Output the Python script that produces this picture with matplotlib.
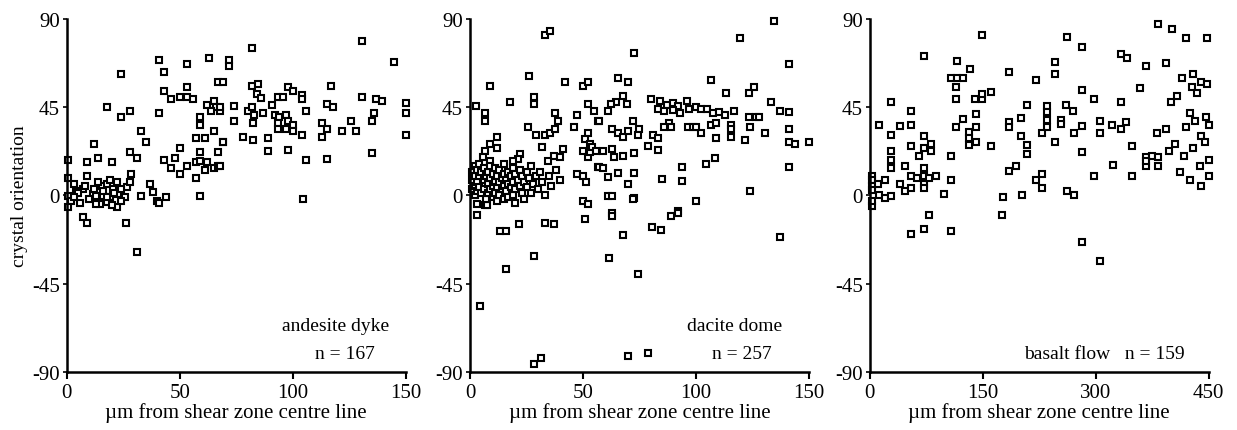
import matplotlib
matplotlib.use("Agg")
import matplotlib.pyplot as plt

plt.rcParams['font.family'] = ['Liberation Serif', 'DejaVu Serif']
plt.rcParams['axes.unicode_minus'] = False

# andesite dyke, x in um, y in degrees
andesite_x = [41, 43, 53, 63, 72, 72, 24, 67, 18, 24, 28, 41, 43, 46, 50, 53, 53, 56, 62, 65,
              66, 64, 68, 59, 59, 33, 35, 12, 28, 31, 65, 57, 61, 69, 67, 59, 50, 43, 48, 46,
              53, 50, 57, 59, 62, 57, 61, 65, 67, 59, 0.5, 0.5, 3, 0.5, 2, 0.5, 4, 7, 9, 14,
              20, 9, 7, 9, 26, 31, 33, 37, 38, 40, 41, 44,
              11.5, 13, 15.5, 17.7, 16, 14.6, 19, 20.4, 22, 22.6, 17.7, 13, 22, 25.7, 26.5, 28, 28.3,
              12, 14, 16, 18, 19, 20, 21, 24, 24, 10, 5, 6, 3, 8,
              82, 130.5, 69, 82, 84.5, 84, 86, 93.4, 95.6, 97.8, 100, 104, 104, 91, 117, 115, 117.7,
              130.5, 137, 139.4, 136, 135, 135, 106, 67.7, 74, 74, 80, 82, 83, 86.7, 82.3, 92, 94,
              93.4, 97, 97.8, 100, 93.4, 97, 100, 104, 112.8, 115, 112.8, 121.7, 125.7, 128, 78,
              82.3, 89, 89, 97.8, 106, 115, 69, 67.7, 104.4, 145, 150, 150, 150]
andesite_y = [69, 63, 67, 70, 69, 66, 62, 58, 45, 40, 43, 42, 53, 49, 50, 55, 50, 49, 46, 48,
              45, 43, 43, 40, 36, 33, 27, 26, 22, 19, 33, 29, 29, 27, 22, 22, 24, 18, 19, 14,
              15, 11, 17, 17.5, 17, 9, 13, 14, 15, -0.5, 18, 9, 6, -0.5, -3, -6, 2, 3, 17, 19,
              17, 10, -11, -14, -14, -29, -0.5, 6, 1.5, -3, -4, -1,
              0.5, -0.5, 4.6, 5.6, -0.5, -4.6, -1, 3, 6.6, 0.5, -3.6, -4.6, -6, -1, 4, 7, 11,
              3, 7, 2, -1, 8, -5, 1, 3, -3, -2, 1, -4, -1, 5,
              75, 78.6, 58, 55.6, 57, 51.5, 49.5, 50, 50, 55, 53, 51, 49, 46, 55.6, 46.4, 45,
              50, 49, 48, 42, 37.8, 21.4, 43, 45, 45.4, 37.8, 43, 45, 41, 42, 37, 41, 40,
              37, 41, 37.8, 36, 33.7, 33.7, 32.6, 30.6, 37, 33.7, 29.6, 33, 38, 33, 29.6,
              28, 29, 22.4, 23, 18, 18.4, 27, 15, -2, 68, 47, 42, 31]

# dacite dome
dacite_x = [33, 35.5, 9, 26, 17.8, 28.4, 28.4, 41.8, 50, 52.4, 2.7, 6.7, 6.7, 12, 9, 12, 6.7, 5.8, 9,
            25.8, 29, 33, 35.5, 37.8, 37.8, 39, 47.5, 45.8, 52.4, 54.7, 56.4, 52, 51, 53, 32, 22, 21,
            19, 41.3, 37, 34.7, 40, 50, 52, 53, 56.4, 47.5, 50, 51.5, 50, 52, 3, 6.7,
            119.6, 72.4, 106.7, 65.3, 69.8, 113.3, 123.6, 125.8, 67.5, 64.4, 62.2, 61, 69.3, 57, 63,
            65.3, 67.5, 69.8, 72, 74.7, 74.2,
            80, 84, 87, 90, 92, 96, 97, 100, 102, 83, 86, 90, 93,
            88, 85.8, 89, 96.4, 98.7, 102, 100, 105, 107.6, 110, 113, 117, 106.7, 108.9, 115.6, 115.6,
            115.6, 123.6, 126.7, 124, 109, 121.8, 81, 83, 78.7, 83, 54, 55.6, 59, 63, 67.5, 63.6, 72.4,
            57, 59, 61, 65.3, 72.4, 69.8, 85, 94, 94, 108.4, 104.4, 124, 61, 63, 72.4, 100, 92, 63,
            7.5, 3, 13.3, 16, 21.8, 16, 28.4, 4.4, 28.4, 31.6, 33, 37.3, 50.7, 63, 67.5, 61.3, 74.2,
            69.8, 78.7, 80.4, 84.4, 88.9, 92, 72,
            134.7, 141.3, 133, 137, 141.3, 128, 130.7, 141.3, 141.3, 143.6, 150, 141.3, 137,
            1, 1, 1, 2, 2, 2, 2, 3, 3, 3, 4, 4, 4, 5, 5, 6, 6, 6, 7, 7, 8, 8, 8, 9, 9, 9, 10, 10, 10,
            11, 11, 11, 12, 12, 12, 13, 13, 13, 14, 14, 15, 15, 15, 15, 16, 16, 17, 17, 17, 18, 18,
            19, 19, 19, 20, 20, 20, 21, 22, 22, 23, 23, 24, 24, 25, 25, 26, 27, 27, 28, 29, 30, 31,
            32, 33, 35, 36, 38, 40]
dacite_y = [82, 83.7, 56, 60.7, 47.4, 50, 46.4, 58, 56, 58, 45.4, 42, 38, 29.6, 26, 24, 22.4, 19.4, 17.3,
            34.7, 31, 31, 32, 33.7, 42, 38, 41, 35, 46.4, 43, 37.8, 32, 28.6, 26, 24.5, 21, 18.4,
            17.3, 23.5, 20, 17.3, 19.4, 22.4, 19.4, 22, 14.3, 10.7, 9.7, 7, -3, -4.6, -4.6, -5,
            80, 72.4, 59, 59.7, 58, 52, 52, 55, 50.5, 47.4, 46.4, 43, 46.4, 37.8, 34,
            32, 29.6, 32.6, 37.8, 33.7, 30.6,
            49, 48, 46, 47, 45.5, 48, 44, 45, 44, 44, 43, 43.5, 42,
            37, 35, 34.7, 34.7, 34.7, 32, 34.7, 44, 42, 42.3, 41, 43, 36, 37, 36, 33.7,
            29.6, 39.8, 39.8, 34.7, 29, 28, 31, 29, 25, 23, 24.5, 22.4, 22.4, 23.5, 20, 19.4, 21.4,
            14.3, 13.8, 9.2, 11.2, 11.2, 5.6, 8.2, 14.3, 7.1, 19, 15.8, 2, -0.5, -0.5, -1.5, -3, -8, -9,
            -5, -10, -18.4, -18.4, -14.8, -37.8, -31, -56.6, -86, -83, -14.3, -14.8, -12.2, -10.7, -20.4, -32, -40.3,
            -82, -80.6, -16.3, -17.9, -10.7, -9, -2,
            88.8, 66.8, 47.4, 43, 42.3, 39.8, 32, 34, 27, 26, 27, 14.3, -21.4,
            12, 8, 3, 15, 10, 5, 0, 13, 7, 2, 16, 10, 4, 12, 1, 8, 14, 3, 10, -2, 6, 12, 1, 15, 9, 3, 11, 5, -1,
            14, 7, 1, 10, 4, -3, 13, 7, 0, 9, 3, 16, 11, 5, -2, 8, 2, 12, 6, -1, 10, 4,
            14, 7, 0, 11, 3, -4, 8, 13, 5, 1, 10, 7, -2, 12, 4, 9, 1, 15, 6, 10, 3, 12,
            7, 0, 10, 5, 13, 8]

# basalt flow
basalt_x = [149.6, 72.8, 116.5, 108.5, 116.5, 124.4, 133.7, 115, 115, 140, 149.6, 149.6, 161.5, 29,
            55.6, 55.6, 12, 39.7, 29, 141.6, 141.6, 132.3, 132.3, 141.6, 132.3, 115, 124.4, 161.5,
            72.8, 72.8, 82, 82, 66, 55.6, 29, 29, 29, 47.6, 108.5, 2.6, 2.6, 2.6, 2.6, 3, 3, 10.6,
            19.9, 13, 20, 29, 39.7, 47.6, 55.6, 55.6, 63.5, 72.8, 72.8, 72.8, 72.8, 79.4, 88.7, 108.5,
            99, 177, 176, 79.4, 72.8, 55.6, 108.5,
            382.5, 401, 262, 282, 333.5, 341.5, 246, 246, 366.6, 393, 185, 221, 282, 358.6, 297.8,
            333.5, 400, 408, 209, 235.6, 235.6, 235.6, 235.6, 260.7, 270, 254, 254, 185, 185, 201,
            229, 201, 209, 209, 246, 271.3, 282, 305.7, 305.7, 321.6, 333.5, 340, 381, 393, 397, 282,
            348, 366.6, 374.5, 382.5, 366.6, 382.5, 366.6, 405, 323, 297.8, 349, 194.5, 185, 229, 221,
            229, 262, 271, 202.5, 282, 305.7,
            415, 420, 428, 435, 440, 448, 448, 420, 425, 432, 440, 447, 450, 418, 430, 438, 445, 450,
            412, 425, 440, 450, 430]
basalt_y = [82, 71, 68.5, 60, 60, 60, 64.5, 55.3, 49.2, 49.2, 49.2, 51.8, 52.8, 47.7,
            43, 36, 36, 35.5, 31, 41.6, 35, 32.5, 29, 27.4, 25.9, 35, 39, 25.4,
            30.5, 24, 26.4, 22.8, 19.8, 25.4, 22.8, 17.8, 13.7, 14.7, 19.8, 10, 7.6, 5, 2.5, -5.6, -3, 6,
            7.6, 0, -1.5, -0.5, 6, 2, 3.6, 9.6, 8.6, 9.6, 13.7, 6, 3.6, 8.6, 9.6, 8,
            0.5, -1, -10, -10, -17, -19.8, -18.3,
            87.3, 85, 80.7, 75.6, 72, 70, 68, 62, 66, 67.5, 63, 59, 53.8, 54.8, 49.2,
            47.7, 47.7, 50.8, 46, 45.7, 42.6, 38.6, 35, 46, 43, 38.6, 36.5, 37.6, 35, 39.6,
            32, 30, 25.9, 21.3, 27.4, 32, 35.5, 38, 32, 36, 34, 37.6, 32, 34, 22.8, 22.3,
            24.9, 19.3, 19.8, 19.3, 14.7, 15.2, 17.3, 26.4, 15.7, 10, 10, 15.2, 12.2, 11, 8,
            3.6, 2, 0, 0, -24, -33.5,
            60, 80, 55, 52, 58, 57, 80, 35, 42, 38, 30, 40, 36, 20, 24, 15, 27, 18,
            12, 8, 5, 10, 62]

panels = [
    (andesite_x, andesite_y, [0, 50, 100, 150], ["andesite dyke", "n = 167"], (0.95, 0.91)),
    (dacite_x, dacite_y, [0, 50, 100, 150], ["dacite dome", "n = 257"], (0.92, 0.89)),
    (basalt_x, basalt_y, [0, 150, 300, 450], ["basalt flow   n = 159"], (0.93, None)),
]
lefts = [0.054, 0.380, 0.703]

fig = plt.figure(figsize=(12.37, 4.31), dpi=100)
for i, (xs, ys, xt, labels, tx) in enumerate(panels):
    ax = fig.add_axes([lefts[i], 0.135, 0.274, 0.819])
    ax.plot(xs, ys, 's', ms=4.4, mfc='white', mec='black', mew=1.5, clip_on=False)
    ax.set_xlim(xt[0], xt[-1])
    ax.set_ylim(-90, 90)
    ax.set_xticks(xt)
    ax.set_yticks([-90, -45, 0, 45, 90])
    for s in ['top', 'right']:
        ax.spines[s].set_visible(False)
    for s in ['left', 'bottom']:
        ax.spines[s].set_linewidth(1.8)
    ax.tick_params(axis='x', direction='out', length=5, width=1.5, labelsize=15, pad=3)
    ax.tick_params(axis='y', direction='out', length=3, width=1.2, labelsize=15, pad=2)
    ax.set_xlabel("µm from shear zone centre line", fontsize=15, labelpad=0)
    if i == 0:
        ax.set_ylabel("crystal orientation", fontsize=14, labelpad=3)
    if len(labels) == 2:
        ax.text(tx[0], 0.13, labels[0], transform=ax.transAxes, ha='right', va='center', fontsize=14)
        ax.text(tx[1], 0.051, labels[1], transform=ax.transAxes, ha='right', va='center', fontsize=14)
    else:
        ax.text(tx[0], 0.051, labels[0], transform=ax.transAxes, ha='right', va='center', fontsize=14)

fig.savefig("out.png", dpi=100)
